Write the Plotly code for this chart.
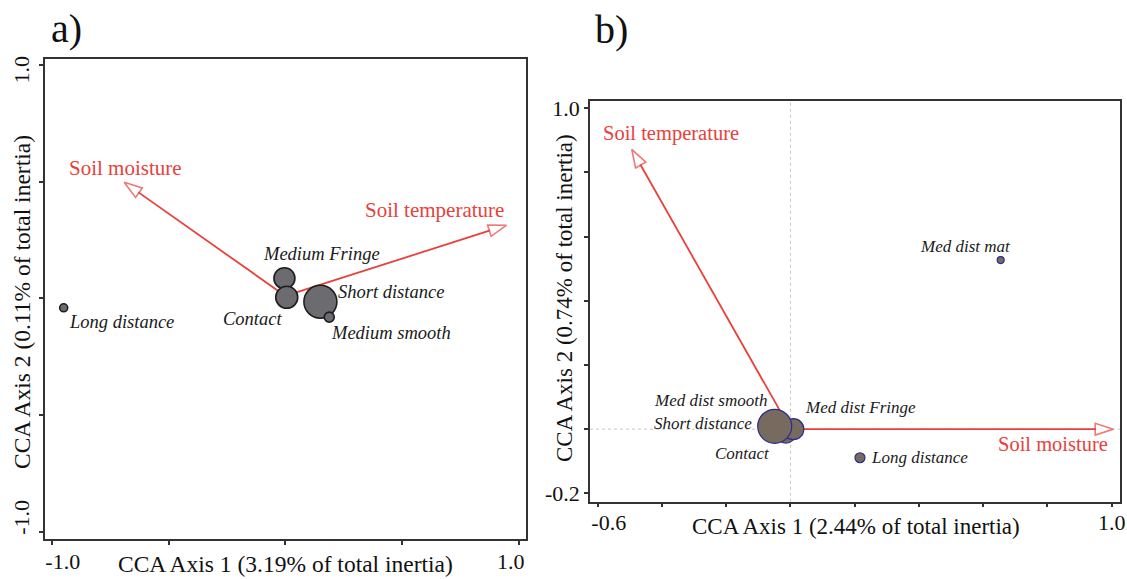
import plotly.graph_objects as go

W, H = 1127, 579
FONT = "Liberation Serif"
RED = "#E8413C"
NB = "&nbsp;"

# ---------------- Panel a data ----------------
a_sites = ["Medium Fringe", "Contact", "Short distance", "Medium smooth", "Long distance"]
a_x = [-0.004, 0.006, 0.150, 0.188, -0.949]
a_y = [0.086, 0.004, -0.015, -0.081, -0.041]
a_size = [21, 22, 33, 10, 8]
a_env = ["Soil moisture", "Soil temperature"]
a_env_x = [-0.690, 0.947]
a_env_y = [0.497, 0.313]
a_origin = [0.0, 0.01]
a_xticks = [-1.0, -0.5, 0.0, 0.5, 1.0]
a_xticktext = ["-1.0", "", "", "", "1.0"]
a_yticks = [-1.0, -0.5, 0.0, 0.5, 1.0]
a_yticktext = ["-1.0", "", "", "", "1.0"]

# ---------------- Panel b data ----------------
b_sites = ["Contact", "Med dist smooth", "Med dist Fringe", "Short distance", "Long distance", "Med dist mat"]
b_x = [-0.014, -0.046, 0.009, -0.049, 0.2165, 0.6545]
b_y = [-0.012, 0.012, 0.000, 0.009, -0.089, 0.527]
b_size = [20, 28, 21, 34, 10, 7]
b_env = ["Soil temperature", "Soil moisture"]
b_env_x = [-0.494, 1.005]
b_env_y = [0.872, 0.0]
b_origin = [0.0, 0.0]
b_xticks = [-0.6, -0.4, -0.2, 0.0, 0.2, 0.4, 0.6, 0.8, 1.0]
b_xticktext = ["-0.6", "", "", "", "", "", "", "", "1.0"]
b_yticks = [-0.2, 0.0, 0.2, 0.4, 0.6, 0.8, 1.0]
b_yticktext = ["-0.2", "", "", "", "", "", "1.0"]

# end-label padding (nbsp count before / after) : style only
def pad(lst, first_pre=0, first_post=0, last_pre=0, last_post=0):
    out = list(lst)
    out[0] = NB * first_pre + out[0] + NB * first_post
    out[-1] = NB * last_pre + out[-1] + NB * last_post
    return out

# label offsets (pixels) : style only
a_site_lab = {
    "Medium Fringe": dict(xshift=37, yshift=24, xanchor="center"),
    "Contact": dict(xshift=-34, yshift=-22, xanchor="center"),
    "Short distance": dict(xshift=71, yshift=10, xanchor="center"),
    "Medium smooth": dict(xshift=62, yshift=-16, xanchor="center"),
    "Long distance": dict(xshift=3, yshift=-14, xanchor="left"),
}
a_env_lab = {
    "Soil moisture": dict(xshift=1, yshift=14, xanchor="center"),
    "Soil temperature": dict(xshift=-72, yshift=15, xanchor="center"),
}
b_site_lab = {
    "Contact": dict(xshift=-43, yshift=-20, xanchor="center"),
    "Med dist smooth": dict(xshift=-65, yshift=25, xanchor="center"),
    "Med dist Fringe": dict(xshift=67, yshift=22, xanchor="center"),
    "Short distance": dict(xshift=-72, yshift=3, xanchor="center"),
    "Long distance": dict(xshift=9, yshift=0, xanchor="left"),
    "Med dist mat": dict(xshift=-35, yshift=14, xanchor="center"),
}
b_env_lab = {
    "Soil temperature": dict(xshift=39, yshift=16, xanchor="center"),
    "Soil moisture": dict(xshift=-3, yshift=-15, xanchor="right"),
}

fig = go.Figure()

def add_arrows(names, ex, ey, origin, xa, ya):
    for n, tx, ty in zip(names, ex, ey):
        fig.add_trace(go.Scatter(
            x=[origin[0], tx], y=[origin[1], ty], mode="lines+markers",
            line=dict(color=RED, width=1.8),
            marker=dict(symbol="arrow", size=[0, 19], angleref="previous",
                        color="white", line=dict(color=RED, width=1.6)),
            xaxis=xa, yaxis=ya, showlegend=False, hoverinfo="skip"))

# panel b dotted zero lines
fig.add_shape(type="line", xref="x2", yref="y2 domain", x0=0, x1=0, y0=0, y1=1,
              line=dict(color="#c8c8c8", width=1, dash="dot"), layer="below")
fig.add_shape(type="line", xref="x2 domain", yref="y2", x0=0, x1=1, y0=0, y1=0,
              line=dict(color="#c8c8c8", width=1, dash="dot"), layer="below")

add_arrows(a_env, a_env_x, a_env_y, a_origin, "x", "y")
add_arrows(b_env, b_env_x, b_env_y, b_origin, "x2", "y2")

fig.add_trace(go.Scatter(
    x=a_x, y=a_y, mode="markers",
    marker=dict(size=a_size, color="#6c6c70", line=dict(color="#1e1e1e", width=1.6), opacity=1),
    xaxis="x", yaxis="y", showlegend=False, text=a_sites, hoverinfo="text"))

fig.add_trace(go.Scatter(
    x=b_x, y=b_y, mode="markers",
    marker=dict(size=b_size, color="#776b5f", line=dict(color="#2b2b8e", width=1.2), opacity=1),
    xaxis="x2", yaxis="y2", showlegend=False, text=b_sites, hoverinfo="text"))

ann = []
for n, x, y in zip(a_sites, a_x, a_y):
    o = a_site_lab[n]
    ann.append(dict(x=x, y=y, xref="x", yref="y", text="<i>%s</i>" % n, showarrow=False,
                    font=dict(family=FONT, size=18.5, color="#1a1a1a"), yanchor="middle", **o))
for n, x, y in zip(a_env, a_env_x, a_env_y):
    o = a_env_lab[n]
    ann.append(dict(x=x, y=y, xref="x", yref="y", text=n, showarrow=False,
                    font=dict(family=FONT, size=21, color=RED), yanchor="middle", **o))
for n, x, y in zip(b_sites, b_x, b_y):
    o = b_site_lab[n]
    ann.append(dict(x=x, y=y, xref="x2", yref="y2", text="<i>%s</i>" % n, showarrow=False,
                    font=dict(family=FONT, size=17, color="#1a1a1a"), yanchor="middle", **o))
for n, x, y in zip(b_env, b_env_x, b_env_y):
    o = b_env_lab[n]
    ann.append(dict(x=x, y=y, xref="x2", yref="y2", text=n, showarrow=False,
                    font=dict(family=FONT, size=20.5, color=RED), yanchor="middle", **o))

def paper(px, py):
    return px / W, 1 - py / H

titles = [
    ("a)", 66, 28, 40, 0),
    ("b)", 611, 30, 40, 0),
    ("CCA Axis 1 (3.19% of total inertia)", 285, 564, 23.5, 0),
    ("CCA Axis 2 (0.11% of total inertia)", 22, 302, 23.5, -90),
    ("CCA Axis 1 (2.44% of total inertia)", 856, 526, 23, 0),
    ("CCA Axis 2 (0.74% of total inertia)", 564, 298, 23, -90),
]
for t, px, py, fs, ang in titles:
    x, y = paper(px, py)
    ann.append(dict(x=x, y=y, xref="paper", yref="paper", text=t, showarrow=False,
                    textangle=ang, xanchor="center", yanchor="middle",
                    font=dict(family=FONT, size=fs, color="#111")))

axis_common = dict(showgrid=False, zeroline=False, showline=True, mirror=True,
                   linecolor="#333", linewidth=1.5, ticks="outside", ticklen=4,
                   tickwidth=1.5, tickcolor="#333", automargin=False,
                   ticklabeloverflow="allow",
                   tickfont=dict(family=FONT, size=22, color="#111"))

fig.update_layout(
    width=W, height=H, margin=dict(l=0, r=0, t=0, b=0, autoexpand=False),
    paper_bgcolor="white", plot_bgcolor="white", showlegend=False,
    xaxis=dict(domain=[45 / W, 525.7 / W], range=[-1.029, 1.029], anchor="y",
               tickmode="array", tickvals=a_xticks,
               ticktext=pad(a_xticktext, first_pre=4, last_post=3),
               ticklabelstandoff=-2, **axis_common),
    yaxis=dict(domain=[1 - 539.3 / H, 1 - 59.3 / H], range=[-1.033, 1.024], anchor="x",
               tickmode="array", tickvals=a_yticks,
               ticktext=pad(a_yticktext, first_pre=4, last_post=3), tickangle=-90,
               ticklabelstandoff=1, **axis_common),
    xaxis2=dict(domain=[590 / W, 1120 / W], range=[-0.624, 1.026], anchor="y2",
                tickmode="array", tickvals=b_xticks,
                ticktext=pad(b_xticktext, first_pre=4),
                ticklabelstandoff=-4, **axis_common),
    yaxis2=dict(domain=[1 - 501.7 / H, 1 - 100.7 / H], range=[-0.226, 1.0237], anchor="x2",
                tickmode="array", tickvals=b_yticks, ticktext=b_yticktext, **axis_common),
    annotations=ann,
)

fig.write_html("out.html")
